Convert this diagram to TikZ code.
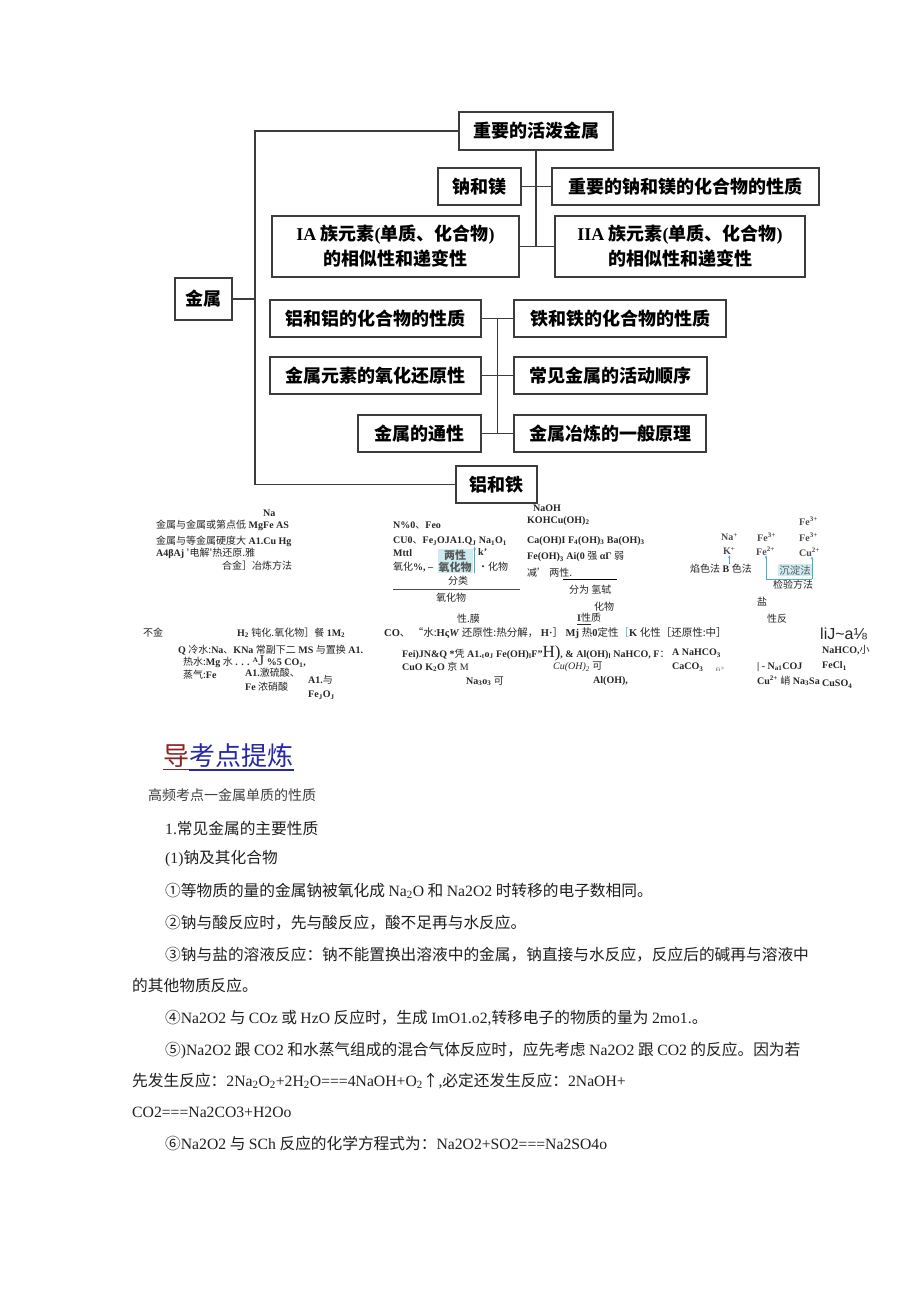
\documentclass[tikz,border=0pt]{standalone}
\usepackage{fontspec}
\setmainfont{Liberation Serif}
\newfontfamily\cjk{Noto Sans CJK SC}
\newfontfamily\lsans{Liberation Sans}
\usetikzlibrary{arrows.meta,calc}
\definecolor{boxline}{RGB}{60,60,60}
\definecolor{hlcyan}{RGB}{205,236,242}
\definecolor{arrcyan}{RGB}{70,175,195}
\definecolor{headred}{RGB}{140,35,35}
\definecolor{headblue}{RGB}{40,40,165}
\newcommand{\zh}[1]{{\cjk\mdseries #1}}
\newcommand{\la}[1]{{\rmfamily #1}}
\tikzset{
  mapbox/.style={draw=boxline, line width=1.6pt, inner sep=0pt, align=center,
    font=\fontsize{18}{25}\selectfont\cjk\bfseries},
  bus/.style={draw=boxline, line width=1.3pt},
  scrap/.style={anchor=west, inner sep=0pt, text=black!85, font=\fontsize{10}{12}\selectfont\bfseries},
  ion/.style={scrap, text=black!70, font=\fontsize{10}{11}\selectfont\bfseries},
  para/.style={anchor=west, inner sep=0pt, text=black!88, font=\fontsize{15.7}{18}\selectfont\cjk},
  hlbox/.style={fill=hlcyan, inner sep=1pt, align=center, text=black!65,
    font=\fontsize{11}{12}\selectfont\cjk\bfseries},
  carr/.style={-{Stealth[length=3pt]}, arrcyan, line width=0.8pt},
}

\begin{document}
\begin{tikzpicture}[x=1pt, y=-1pt]
\fill[white] (0,0) rectangle (920,1301);
\useasboundingbox (0,0) rectangle (920,1301);

% concept map
\node[mapbox, minimum width=154pt, minimum height=38pt] (huopo) at (536,131) {重要的活泼金属};
\node[mapbox, minimum width=83pt, minimum height=37pt] (namei) at (479.5,186.5) {钠和镁};
\node[mapbox, minimum width=267pt, minimum height=37pt] (nameihua) at (685.5,186.5) {重要的钠和镁的化合物的性质};
\node[mapbox, minimum width=247pt, minimum height=61pt] (ia) at (395.5,246.5)
  {{\rmfamily IA} 族元素{\rmfamily (}单质、化合物{\rmfamily )}\\的相似性和递变性};
\node[mapbox, minimum width=250pt, minimum height=61pt] (iia) at (680,246.5)
  {{\rmfamily IIA} 族元素{\rmfamily (}单质、化合物{\rmfamily )}\\的相似性和递变性};
\node[mapbox, minimum width=57pt, minimum height=42pt] (jinshu) at (203.5,299) {金属};
\node[mapbox, minimum width=211pt, minimum height=37pt] (lv) at (375.5,318.5) {铝和铝的化合物的性质};
\node[mapbox, minimum width=212pt, minimum height=37pt] (tie) at (620,318.5) {铁和铁的化合物的性质};
\node[mapbox, minimum width=211pt, minimum height=37pt] (yang) at (375.5,375.5) {金属元素的氧化还原性};
\node[mapbox, minimum width=193pt, minimum height=37pt] (huodong) at (610.5,375.5) {常见金属的活动顺序};
\node[mapbox, minimum width=123pt, minimum height=37pt] (tongxing) at (419.5,433.5) {金属的通性};
\node[mapbox, minimum width=192pt, minimum height=37pt] (yelian) at (610,433.5) {金属冶炼的一般原理};
\node[mapbox, minimum width=81pt, minimum height=37pt] (lvtie) at (496.5,484.5) {铝和铁};

\coordinate (lbus) at (255,299);
\coordinate (dbus) at ($(lv.east)!0.5!(tie.west)$);
\draw[bus] (jinshu.east) -- (lbus);
\draw[bus] (huopo.west) -| (lbus) |- (lvtie.west);
\draw[bus] (huopo.south) -- (huopo.south |- ia.east);
\draw[bus] (namei.east) -- (nameihua.west);
\draw[bus] (ia.east) -- (iia.west);
\draw[bus] (lv.east) -- (tie.west);
\draw[bus] (yang.east) -- (huodong.west);
\draw[bus] (tongxing.east) -- (yelian.west);
\draw[bus] (dbus) -- (dbus |- tongxing.east);

% scrambled summary
\node[scrap] (n1) at (263,513) {Na};
\node[scrap] (n2) at (156,525) {\zh{金属与金属或第点低} MgFe AS};
\node[scrap] (n3) at (156,541) {\zh{金属与等金属硬度大} A1.Cu Hg};
\node[scrap] (n4) at (156,553) {A4βAj \zh{'电解'热还原.雅}};
\node[scrap] (n5) at (222,566) {\zh{合金］冶炼方法}};

\node[scrap] (o1) at (393,525) {N\%0\zh{、}Feo};
\node[scrap] (o2) at (393,541) {CU0\zh{、}Fe\textsubscript{J}OJA1.Q\textsubscript{J} Na\textsubscript{1}O\textsubscript{1}};
\node[scrap] (o3) at (393,553) {Mttl};
\node[scrap] (o4) at (393,567) {\zh{氧化}\%, --};
\node[hlbox] (lxbox) at (455,561) {两性\\氧化物};
\node[scrap] (o5) at (478,552) {k'};
\node[scrap] (o6) at (478,567) {\zh{·化物}};
\node[scrap] (o7) at (448,581) {\zh{分类}};
\draw[black!70, line width=0.9pt] (393,589) -- (520,589);
\node[scrap] (o8) at (436,598) {\zh{氧化物}};
\draw[carr] ($(lxbox.south east)+(2,0)$) -- ($(lxbox.north east)+(2,-2)$);

\node[scrap] (b1) at (533,508) {NaOH};
\node[scrap] (b2) at (527,521) {KOHCu(OH)\textsubscript{2}};
\node[scrap] (b3) at (527,541) {Ca(OH)I F\textsubscript{4}(OH)\textsubscript{3} Ba(OH)\textsubscript{3}};
\node[scrap] (b4) at (527,557) {Fe(OH)\textsubscript{3} Ai(0 \zh{强} αΓ \zh{弱}};
\node[scrap] (b5) at (527,573) {\zh{减’ 两性.}};
\draw[black, line width=0.9pt] (563,579) -- (617,579);
\node[scrap] (b6) at (569,590) {\zh{分为 氢轼}};
\node[scrap] (b7) at (594,607) {\zh{化物}};

\node[scrap] (s1) at (457,619) {\zh{性.膜}};
\node[scrap] (s2) at (577,619) {\underline{I\zh{性}}\zh{质}};
\node[scrap, font=\fontsize{10.5}{12}\selectfont\bfseries] (s3) at (384,633) {CO\zh{、 “水:}Hς\textit{W} \zh{还原性:热分解，} H·\zh{］} Mj \zh{热}0\zh{定性}{\color{arrcyan}\zh{［}}K \zh{化性［还原性:中］}};
\node[scrap] (s4) at (143,633) {\zh{不金}};
\node[scrap] (s5) at (237,633) {H\textsubscript{2} \zh{钝化.氧化物］餐} 1M\textsubscript{2}};
\node[scrap] (s6) at (178,650) {Q \zh{冷水:}Na\zh{、}KNa \zh{常副下二} MS \zh{与置换} A1.};
\node[scrap] (s7) at (183,662) {\zh{热水:}Mg \zh{水} . . . \textsuperscript{A}{\mdseries\fontsize{15}{15}\selectfont J} \%5 CO\textsubscript{1},};
\node[scrap] (s8) at (183,675) {\zh{蒸气:}Fe};
\node[scrap] (s9) at (245,673) {A1.\zh{激硫酸、}};
\node[scrap] (s10) at (245,687) {Fe \zh{浓硝酸}};
\node[scrap] (s11) at (308,680) {A1.\zh{与}};
\node[scrap] (s12) at (308,695) {Fe\textsubscript{J}O\textsubscript{J}};

\node[scrap] (t1) at (402,653) {Fei)JN\&Q *\zh{凭} A1.\textsubscript{t}o\textsubscript{J} Fe(OH)\textsubscript{l}F''{\mdseries\fontsize{17}{17}\selectfont H)}, \& Al(OH)\textsubscript{l} NaHCO, F\zh{：}};
\node[scrap] (t1b) at (672,653) {A NaHCO\textsubscript{3}};
\node[scrap] (t2) at (402,667) {CuO K\textsubscript{2}O \zh{京} {\mdseries M}};
\node[scrap] (t3) at (553,667) {{\mdseries\itshape Cu(OH)\textsubscript{2}} \zh{可}};
\node[scrap] (t4) at (672,667) {CaCO\textsubscript{3}};
\node[scrap, font=\fontsize{6}{7}\selectfont] (t5) at (716,669) {\textsubscript{Fi}>};
\node[scrap] (t6) at (466,681) {Na\textsubscript{3}o\textsubscript{3} \zh{可}};
\node[scrap] (t7) at (593,681) {Al(OH),};

% test methods cluster
\node[ion] (fe3t) at (799,521) {Fe\textsuperscript{3+}};
\node[ion] (naion) at (721,537) {Na\textsuperscript{+}};
\node[ion] (fe3a) at (757,537) {Fe\textsuperscript{3+}};
\node[ion] (fe3b) at (799,537) {Fe\textsuperscript{3+}};
\node[ion] (kion) at (723,551) {K\textsuperscript{+}};
\node[ion] (fe2) at (756,551) {Fe\textsuperscript{2+}};
\node[ion] (cu2) at (799,552) {Cu\textsuperscript{2+}};
\node[scrap] (yanse) at (690,569) {\zh{焰色法} B \zh{色法}};
\node[hlbox, font=\fontsize{10.5}{11}\selectfont\cjk] (cdbox) at (795,570) {沉淀法};
\node[scrap] (jianyan) at (773,585) {\zh{检验方法}};
\coordinate (jbl) at (766,579);
\coordinate (jbr) at (812,579);
\draw[carr] (kion.south |- yanse.north) -- (kion.south);
\draw[arrcyan, line width=0.8pt] (jbl) -- (jbr);
\draw[carr] (jbl) -- (jbl |- fe2.south);
\draw[carr] (jbr) -- (jbr |- cu2.south);
\node[scrap] (yan) at (757,602) {\zh{盐}};
\node[scrap] (xingfan) at (767,619) {\zh{性反}};
\node[scrap, font=\fontsize{16}{16}\selectfont\lsans] (lij) at (820,634) {liJ\textasciitilde a⅛};
\node[scrap] (r2) at (822,650) {NaHCO,\zh{小}};
\node[scrap] (r3) at (757,667) {| - N\textsubscript{a1}COJ};
\node[scrap] (r4) at (822,666) {FeCl\textsubscript{1}};
\node[scrap] (r5) at (757,681) {Cu\textsuperscript{2+} \zh{峭} Na\textsubscript{3}Sa};
\node[scrap] (r6) at (822,684) {CuSO\textsubscript{4}};

% heading and notes
\node[anchor=west, inner sep=0pt, font=\fontsize{26}{30}\selectfont\cjk, text=headred] (dao) at (163,756) {导};
\node[anchor=west, inner sep=0pt, font=\fontsize{26}{30}\selectfont\cjk, text=headblue] (kaodian) at (dao.east) {考点提炼};
\draw[headred, line width=1.3pt] ($(dao.base west)+(0,4)$) -- ($(dao.base east)+(0,4)$);
\draw[headblue, line width=1.3pt] ($(kaodian.base west)+(0,4)$) -- ($(kaodian.base east)+(0,4)$);

\node[para, font=\fontsize{14}{16}\selectfont\cjk, text=black!75] (gaopin) at (148,795) {高频考点一金属单质的性质};
\node[para] (p1) at (165,828) {\la{1.}常见金属的主要性质};
\node[para] (p2) at (165,859) {\la{(1)}钠及其化合物};
\node[para] (p3) at (165,891) {①等物质的量的金属钠被氧化成 \la{Na\textsubscript{2}O} 和 \la{Na2O2} 时转移的电子数相同。};
\node[para] (p4) at (165,923) {②钠与酸反应时，先与酸反应，酸不足再与水反应。};
\node[para] (p5) at (165,955) {③钠与盐的溶液反应：钠不能置换出溶液中的金属，钠直接与水反应，反应后的碱再与溶液中};
\node[para] (p6) at (132,986) {的其他物质反应。};
\node[para] (p7) at (165,1018) {④\la{Na2O2} 与 \la{COz} 或 \la{HzO} 反应时，生成 \la{ImO1.o2,}转移电子的物质的量为 \la{2mo1.}。};
\node[para] (p8) at (165,1050) {⑤\la{)Na2O2} 跟 \la{CO2} 和水蒸气组成的混合气体反应时，应先考虑 \la{Na2O2} 跟 \la{CO2} 的反应。因为若};
\node[para] (p9) at (132,1081) {先发生反应：\la{2Na\textsubscript{2}O\textsubscript{2}+2H\textsubscript{2}O===4NaOH+O\textsubscript{2}}↑\la{,}必定还发生反应：\la{2NaOH+}};
\node[para] (p10) at (132,1112) {\la{CO2===Na2CO3+H2Oo}};
\node[para] (p11) at (165,1144) {⑥\la{Na2O2} 与 \la{SCh} 反应的化学方程式为：\la{Na2O2+SO2===Na2SO4o}};
\end{tikzpicture}
\end{document}
